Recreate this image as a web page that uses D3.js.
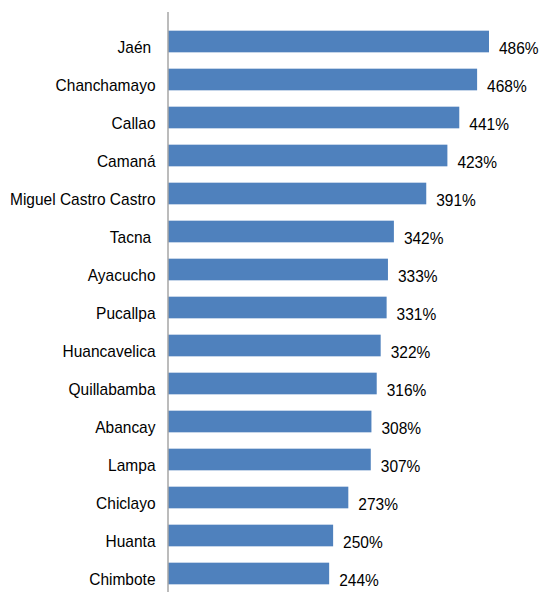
<!DOCTYPE html>
<html><head><meta charset="utf-8">
<script src="https://cdn.jsdelivr.net/npm/d3@7"></script>
<style>body{margin:0;background:#fff}text{white-space:pre}</style>
</head><body>
<script>
const categories = ["Jaén ","Chanchamayo","Callao","Camaná","Miguel Castro Castro","Tacna ","Ayacucho","Pucallpa","Huancavelica","Quillabamba","Abancay","Lampa","Chiclayo","Huanta","Chimbote"];
const values = [486,468,441,423,391,342,333,331,322,316,308,307,273,250,244];

const W=541,H=592;
const svg=d3.select("body").append("svg").attr("width",W).attr("height",H);
const x=d3.scaleLinear().domain([0,486]).range([168,489]);
const y=d3.scaleBand().domain(categories).range([22.5,592.5]).paddingInner(0.43).paddingOuter(0.215);
const font="'Liberation Sans', Arial, sans-serif";

svg.selectAll("rect.bar").data(values).join("rect")
  .attr("x",x(0)).attr("y",(d,i)=>y(categories[i]))
  .attr("width",d=>x(d)-x(0)).attr("height",y.bandwidth())
  .attr("fill","#4f81bd");

svg.append("line").attr("x1",168).attr("x2",168).attr("y1",12).attr("y2",592)
  .attr("stroke","#a6a6a6").attr("stroke-width",1.5);

svg.selectAll("text.cat").data(categories).join("text")
  .attr("transform",d=>`translate(155.5,${y(d)+y.bandwidth()/2+11.5}) scale(1,1.08)`)
  .attr("text-anchor","end").attr("font-family",font).attr("font-size",15.5)
  .attr("fill","#000").text(d=>d);

svg.selectAll("text.val").data(values).join("text")
  .attr("transform",(d,i)=>`translate(${x(d)+10},${y(categories[i])+y.bandwidth()/2+12}) scale(1,1.08)`)
  .attr("font-family",font).attr("font-size",15.5).attr("fill","#000")
  .text(d=>d+"%");
</script>
</body></html>
